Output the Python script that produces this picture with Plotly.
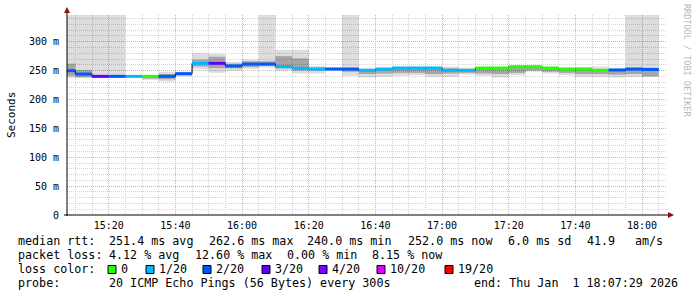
import plotly.graph_objects as go
import pandas as pd

# ---------------- data ----------------
seg_start = pd.date_range("2026-01-01 15:05", periods=36, freq="5min")
seg_end = seg_start + pd.Timedelta(minutes=5)
seg_mid = seg_start + pd.Timedelta(seconds=150)

median_ms = [249.8, 244.0, 240.0, 240.0, 240.0, 240.0, 240.0, 244.6, 262.6, 262.6,
             257.9, 261.3, 261.3, 256.7, 253.9, 252.7, 252.7, 252.7, 250.4, 252.5,
             254.4, 254.4, 254.4, 250.4, 250.4, 254.4, 254.4, 256.7, 256.7, 254.4,
             252.7, 252.7, 250.4, 251.0, 252.7, 252.0]
loss_step = [2, 2, 3, 2, 1, 0, 2, 2, 1, 3, 2, 2, 2, 1, 1, 1, 2, 2, 1, 1,
             1, 1, 1, 1, 1, 0, 0, 0, 0, 0, 0, 0, 0, 2, 2, 2]
outer_lo = [237, 238, 238, 238, 239, 234, 231, 240, 252, 246, 250, 253, 255, 250, 245, 245, 250, 241,
            238, 239, 241, 242, 239, 239, 243, 241, 238, 242, 248, 245, 242, 239, 239, 238, 239, 239]
outer_hi = [400, 400, 400, 400, 241, 240, 248, 248, 280, 279, 265, 269, 400, 286, 286, 258, 255, 400,
            254, 255, 257, 257, 257, 257, 255, 256, 256, 258, 258, 256, 254, 256, 257, 254, 400, 400]
inner_lo = [241, 238, 238, 238, 239, 236, 235, 242, 257, 254, 254, 256, 258, 254, 250, 250, 251, 248,
            244, 245, 246, 246, 244, 245, 246, 245, 244, 246, 250, 248, 246, 244, 244, 243, 244, 240]
inner_hi = [262, 251, 241, 241, 241, 240, 244, 246, 269, 274, 262, 266, 266, 275, 271, 255, 254, 253,
            251, 253, 254, 254, 254, 254, 252, 254, 254, 256, 256, 254, 252, 253, 251, 251, 253, 252]

loss_keys = [0, 1, 2, 3, 4, 10, 19]
loss_labels = ["0", "1/20", "2/20", "3/20", "4/20", "10/20", "19/20"]
loss_colors = ["#26ff00", "#00b8ff", "#0059ff", "#5e00ff", "#7e00ff", "#dd00ff", "#ff0000"]

y_ticks = [0, 50, 100, 150, 200, 250, 300]
y_ticktext = ["0", "50 m", "100 m", "150 m", "200 m", "250 m", "300 m"]

x_start = "2026-01-01 15:07:29"
x_end = "2026-01-01 18:07:29"

stats_rtt = ["median rtt:", "251.4 ms avg", "262.6 ms max", "240.0 ms min",
             "252.0 ms now", "6.0 ms sd", "41.9", "am/s"]
stats_rtt_x = [16, 107.3, 207.3, 305, 405.5, 505.5, 585, 633]
stats_loss = ["packet loss:", "4.12 % avg", "12.60 % max", "0.00 % min", "8.15 % now"]
stats_loss_x = [16, 107.3, 192.5, 284.5, 370]
swatch_x = [108, 146, 203, 262, 319, 377, 445]
probe_text = "20 ICMP Echo Pings (56 Bytes) every 300s"
end_text = "end: Thu Jan  1 18:07:29 2026"

# ---------------- layout geometry ----------------
W, H = 697, 297
L, R, T, B = 67, 30, 15, 82
PW, PH = W - L - R, H - T - B
MONO = "DejaVu Sans Mono"


def px(x):
    return (x - L) / PW


def py(y):
    return (T + PH - y) / PH


fig = go.Figure()

# smoke: outer and inner bands
width_ms = 5 * 60 * 1000
fig.add_trace(go.Bar(x=seg_mid, base=outer_lo, y=[h - l for h, l in zip(outer_hi, outer_lo)],
                     width=width_ms, marker=dict(color="rgba(0,0,0,0.135)", line=dict(width=0)),
                     hoverinfo="skip", showlegend=False))
fig.add_trace(go.Bar(x=seg_mid, base=inner_lo, y=[h - l for h, l in zip(inner_hi, inner_lo)],
                     width=width_ms, marker=dict(color="rgba(0,0,0,0.25)", line=dict(width=0)),
                     hoverinfo="skip", showlegend=False))

# black step line
sx, sy = [], []
for s, e, m in zip(seg_start, seg_end, median_ms):
    sx += [s, e]
    sy += [m, m]
fig.add_trace(go.Scatter(x=sx, y=sy, mode="lines", line=dict(color="black", width=1),
                         hoverinfo="skip", showlegend=False))

# coloured median segments grouped by loss colour
for key, col in zip(loss_keys, loss_colors):
    cx, cy = [], []
    for s, e, m, lk in zip(seg_start, seg_end, median_ms, loss_step):
        if lk == key:
            cx += [s, e, None]
            cy += [m, m, None]
    if cx:
        fig.add_trace(go.Scatter(x=cx, y=cy, mode="lines", line=dict(color=col, width=3),
                                 hoverinfo="skip", showlegend=False))

fig.update_layout(
    width=W, height=H, margin=dict(l=L, r=R, t=T, b=B, pad=0),
    paper_bgcolor="white", plot_bgcolor="white",
    barmode="overlay", showlegend=False,
    font=dict(family=MONO, size=10, color="black"),
)
fig.update_xaxes(
    type="date", range=[x_start, x_end],
    tick0="2026-01-01 15:00", dtick=20 * 60 * 1000, tickformat="%H:%M",
    showgrid=True, gridcolor="#e8a8a8", griddash="1px,1px", gridwidth=1,
    minor=dict(dtick=5 * 60 * 1000, showgrid=True, gridcolor="#d4d4d4", griddash="1px,1px", gridwidth=1),
    showline=False, zeroline=False, ticks="", ticklabelstandoff=3,
    tickfont=dict(family=MONO, size=10, color="black"),
)
fig.update_yaxes(
    range=[0, 346.2], tickvals=y_ticks, ticktext=y_ticktext,
    showgrid=True, gridcolor="#e8a8a8", griddash="1px,1px", gridwidth=1,
    minor=dict(dtick=10, showgrid=True, gridcolor="#d4d4d4", griddash="1px,1px", gridwidth=1),
    showline=False, zeroline=False, ticks="", ticklabelstandoff=7,
    tickfont=dict(family=MONO, size=10, color="black"),
)

shapes = []
# axis lines with arrows
shapes.append(dict(type="line", xref="paper", yref="paper", x0=0, x1=0, y0=py(216), y1=py(12),
                   line=dict(color="black", width=1)))
shapes.append(dict(type="line", xref="paper", yref="paper", x0=px(64), x1=px(669), y0=0, y1=0,
                   line=dict(color="black", width=1)))
shapes.append(dict(type="path", xref="paper", yref="paper",
                   path=f"M {px(64)},{py(13)} L {px(70)},{py(13)} L {px(67)},{py(7)} Z",
                   fillcolor="#8b1010", line=dict(width=0)))
shapes.append(dict(type="path", xref="paper", yref="paper",
                   path=f"M {px(668)},{py(212)} L {px(668)},{py(218)} L {px(674)},{py(215)} Z",
                   fillcolor="#8b1010", line=dict(width=0)))
# loss colour swatches
for sxp, col in zip(swatch_x, loss_colors):
    shapes.append(dict(type="rect", xref="paper", yref="paper",
                       x0=px(sxp), x1=px(sxp + 8), y0=py(273.5), y1=py(265.5),
                       fillcolor=col, line=dict(color="black", width=1)))

ann = []


def text(x, y, s, size=11.7, color="black", anchor="left"):
    ann.append(dict(x=px(x), y=py(y), xref="paper", yref="paper", text=s, showarrow=False,
                    xanchor=anchor, yanchor="middle", font=dict(family=MONO, size=size, color=color)))


for s, x in zip(stats_rtt, stats_rtt_x):
    text(x, 241, s)
for s, x in zip(stats_loss, stats_loss_x):
    text(x, 255, s)
text(16, 269.3, "loss color:")
for sxp, lab in zip(swatch_x, loss_labels):
    text(sxp + 10.5, 269.3, lab)
text(16, 283.3, "probe:")
text(107.3, 283.3, probe_text)
text(680, 283.3, end_text, anchor="right")

ann.append(dict(x=px(11), y=py(115), xref="paper", yref="paper", text="Seconds", showarrow=False,
                textangle=-90, xanchor="center", yanchor="middle",
                font=dict(family=MONO, size=11, color="black")))
ann.append(dict(x=px(687), y=py(60), xref="paper", yref="paper", text="RRDTOOL / TOBI OETIKER",
                showarrow=False, textangle=90, xanchor="center", yanchor="middle",
                font=dict(family=MONO, size=8.5, color="#b8b8b8")))

fig.update_layout(shapes=shapes, annotations=ann)
fig.write_html("out.html")
